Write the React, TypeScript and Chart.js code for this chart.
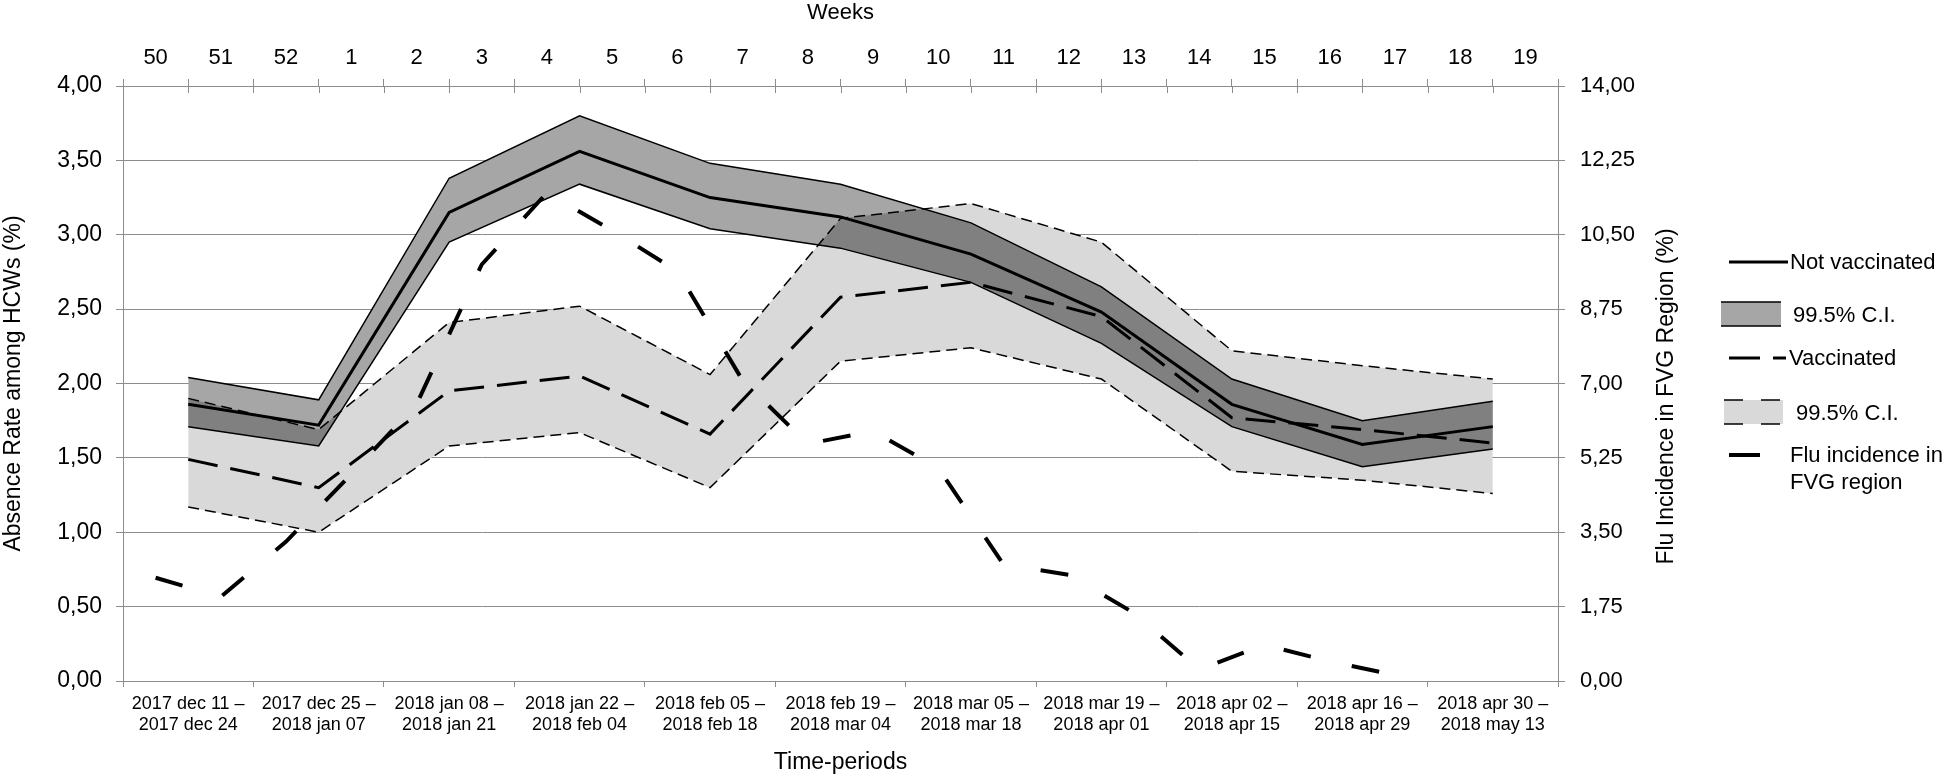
import React, { useEffect, useRef } from 'react';
import { Chart, registerables } from 'chart.js';

Chart.register(...registerables);

// ---- Data ----
const periods: string[][] = [
  ['2017 dec 11 –', '2017 dec 24'],
  ['2017 dec 25 –', '2018 jan 07'],
  ['2018 jan 08 –', '2018 jan 21'],
  ['2018 jan 22 –', '2018 feb 04'],
  ['2018 feb 05 –', '2018 feb 18'],
  ['2018 feb 19 –', '2018 mar 04'],
  ['2018 mar 05 –', '2018 mar 18'],
  ['2018 mar 19 –', '2018 apr 01'],
  ['2018 apr 02 –', '2018 apr 15'],
  ['2018 apr 16 –', '2018 apr 29'],
  ['2018 apr 30 –', '2018 may 13'],
];

const weeks: string[] = [
  '50', '51', '52', '1', '2', '3', '4', '5', '6', '7', '8',
  '9', '10', '11', '12', '13', '14', '15', '16', '17', '18', '19',
];

const notVaccinated = [1.86, 1.72, 3.15, 3.56, 3.25, 3.12, 2.87, 2.48, 1.86, 1.59, 1.71];
const notVaccinatedLow = [1.71, 1.58, 2.95, 3.34, 3.04, 2.91, 2.68, 2.27, 1.71, 1.44, 1.56];
const notVaccinatedHigh = [2.04, 1.89, 3.38, 3.8, 3.48, 3.34, 3.08, 2.65, 2.03, 1.75, 1.88];

const vaccinated = [1.49, 1.3, 1.95, 2.05, 1.66, 2.58, 2.68, 2.45, 1.77, 1.69, 1.6];
const vaccinatedLow = [1.17, 1.0, 1.58, 1.67, 1.3, 2.15, 2.24, 2.03, 1.41, 1.35, 1.26];
const vaccinatedHigh = [1.9, 1.69, 2.41, 2.52, 2.06, 3.11, 3.21, 2.95, 2.22, 2.12, 2.03];

const fluIncidence: (number | null)[] = [
  2.43, 1.98, 3.28, 4.87, 6.51, 9.8, 11.49, 10.6, 9.64, 7.07, 5.58,
  5.88, 5.01, 2.74, 2.5, 1.6, 0.27, 0.85, 0.46, 0.14, null, null,
];

const leftTitle = 'Absence Rate among HCWs (%)';
const rightTitle = 'Flu Incidence in FVG Region (%)';
const legendLabels = ['Not vaccinated', '99.5% C.I.', 'Vaccinated', '99.5% C.I.', 'Flu incidence in', 'FVG region'];

const FONT = "'Liberation Sans', Arial, Helvetica, sans-serif";
const GRID = '#8c8c8c';
const NV_FILL = '#a6a6a6';
const V_FILL = '#d9d9d9';
const OVERLAP_FILL = '#808080';

const comma = (v: number | string) => Number(v).toFixed(2).replace('.', ',');

export default function App() {
  const ref = useRef<HTMLCanvasElement | null>(null);

  useEffect(() => {
    if (!ref.current) return;

    const bandPath = (hi: any[], lo: any[]) => {
      const p = new Path2D();
      hi.forEach((pt, i) => (i ? p.lineTo(pt.x, pt.y) : p.moveTo(pt.x, pt.y)));
      for (let i = lo.length - 1; i >= 0; i--) p.lineTo(lo[i].x, lo[i].y);
      p.closePath();
      return p;
    };

    const overlapPlugin = {
      id: 'ciOverlap',
      beforeDatasetsDraw(chart: any) {
        const c = chart.ctx;
        const a = chart.chartArea;
        const nvLo = chart.getDatasetMeta(0).data;
        const nvHi = chart.getDatasetMeta(1).data;
        const vLo = chart.getDatasetMeta(2).data;
        const vHi = chart.getDatasetMeta(3).data;
        c.save();
        c.beginPath();
        c.rect(a.left, a.top, a.right - a.left, a.bottom - a.top);
        c.clip();
        c.clip(bandPath(vHi, vLo));
        c.fillStyle = OVERLAP_FILL;
        c.fill(bandPath(nvHi, nvLo));
        c.restore();
      },
    };

    const decorPlugin = {
      id: 'decor',
      afterDraw(chart: any) {
        const c = chart.ctx;
        const a = chart.chartArea;
        // inner part of top week ticks
        const x2 = chart.scales.x2;
        const step = x2.getPixelForValue(1) - x2.getPixelForValue(0);
        c.save();
        c.strokeStyle = GRID;
        c.lineWidth = 1;
        for (let i = 0; i <= weeks.length; i++) {
          const x = Math.round(x2.getPixelForValue(i) - step / 2) + 0.5;
          c.beginPath();
          c.moveTo(x, a.top);
          c.lineTo(x, a.top + 7);
          c.stroke();
        }
        c.restore();

        // right axis title (reads bottom-to-top)
        c.save();
        c.fillStyle = '#000';
        c.font = `23px ${FONT}`;
        c.textAlign = 'center';
        c.textBaseline = 'middle';
        c.translate(1667, (a.top + a.bottom) / 2 + 13);
        c.rotate(-Math.PI / 2);
        c.fillText(rightTitle, 0, 0);
        c.restore();

        // legend
        c.save();
        c.fillStyle = '#000';
        c.strokeStyle = '#000';
        c.font = `22px ${FONT}`;
        c.textAlign = 'left';
        c.textBaseline = 'middle';
        // Not vaccinated
        c.lineWidth = 3;
        c.beginPath();
        c.moveTo(1729, 262);
        c.lineTo(1788, 262);
        c.stroke();
        c.fillText(legendLabels[0], 1790, 263);
        // NV CI box
        c.fillStyle = NV_FILL;
        c.fillRect(1721, 302, 60, 24);
        c.lineWidth = 1.5;
        c.beginPath();
        c.moveTo(1721, 302);
        c.lineTo(1781, 302);
        c.moveTo(1721, 326);
        c.lineTo(1781, 326);
        c.stroke();
        c.fillStyle = '#000';
        c.fillText(legendLabels[1], 1793, 316);
        // Vaccinated
        c.lineWidth = 3;
        c.beginPath();
        c.moveTo(1729, 358);
        c.lineTo(1760, 358);
        c.moveTo(1773, 358);
        c.lineTo(1786, 358);
        c.stroke();
        c.fillText(legendLabels[2], 1789, 359);
        // V CI box
        c.fillStyle = V_FILL;
        c.fillRect(1724, 400, 59, 24);
        c.lineWidth = 1.5;
        c.beginPath();
        c.moveTo(1724, 400);
        c.lineTo(1743, 400);
        c.moveTo(1761, 400);
        c.lineTo(1780, 400);
        c.moveTo(1724, 424);
        c.lineTo(1743, 424);
        c.moveTo(1761, 424);
        c.lineTo(1780, 424);
        c.stroke();
        c.fillStyle = '#000';
        c.fillText(legendLabels[3], 1796, 414);
        // Flu
        c.lineWidth = 4;
        c.beginPath();
        c.moveTo(1729, 455);
        c.lineTo(1760, 455);
        c.stroke();
        c.fillText(legendLabels[4], 1790, 456);
        c.fillText(legendLabels[5], 1790, 483);
        c.restore();
      },
    };

    const tickFont = { family: FONT, size: 22 };
    const titleFont = { family: FONT, size: 23 };

    const chart = new Chart(ref.current, {
      type: 'line',
      data: {
        labels: periods as any,
        datasets: [
          { label: 'nvLow', data: notVaccinatedLow, borderColor: '#000', borderWidth: 1.5, fill: false, xAxisID: 'x', yAxisID: 'y' },
          { label: 'nvHigh', data: notVaccinatedHigh, borderColor: '#000', borderWidth: 1.5, fill: '-1', backgroundColor: NV_FILL, xAxisID: 'x', yAxisID: 'y' },
          { label: 'vLow', data: vaccinatedLow, borderColor: '#000', borderWidth: 1.5, borderDash: [11, 6], fill: false, xAxisID: 'x', yAxisID: 'y' },
          { label: 'vHigh', data: vaccinatedHigh, borderColor: '#000', borderWidth: 1.5, borderDash: [11, 6], fill: '-1', backgroundColor: V_FILL, xAxisID: 'x', yAxisID: 'y' },
          { label: 'Not vaccinated', data: notVaccinated, borderColor: '#000', borderWidth: 3, fill: false, xAxisID: 'x', yAxisID: 'y' },
          { label: 'Vaccinated', data: vaccinated, borderColor: '#000', borderWidth: 3, borderDash: [30, 13], fill: false, xAxisID: 'x', yAxisID: 'y' },
          { label: 'Flu incidence in FVG region', data: fluIncidence, borderColor: '#000', borderWidth: 4, borderDash: [28, 42], fill: false, xAxisID: 'x2', yAxisID: 'y2' },
        ] as any,
      },
      options: {
        responsive: false,
        animation: false,
        layout: { padding: 0 },
        elements: { point: { radius: 0, hoverRadius: 0 }, line: { tension: 0 } },
        plugins: {
          legend: { display: false },
          tooltip: { enabled: false },
          filler: { drawTime: 'beforeDatasetsDraw' },
        } as any,
        scales: {
          x: {
            type: 'category',
            position: 'bottom',
            labels: periods as any,
            offset: true,
            grid: { offset: true, drawOnChartArea: false, drawTicks: true, tickLength: 6, color: GRID },
            border: { color: GRID, width: 1 },
            ticks: { font: { family: FONT, size: 18 }, color: '#000', padding: 6, maxRotation: 0, autoSkip: false },
            title: { display: true, text: 'Time-periods', font: titleFont, color: '#000', padding: { top: 0, bottom: 4 } },
            afterFit: (s: any) => { s.height = 99; },
          },
          x2: {
            type: 'category',
            position: 'top',
            labels: weeks,
            offset: true,
            grid: { offset: true, drawOnChartArea: false, drawTicks: true, tickLength: 7, color: GRID },
            border: { color: GRID, width: 1 },
            ticks: { font: tickFont, color: '#000', padding: 8, maxRotation: 0, autoSkip: false },
            title: { display: true, text: 'Weeks', font: { family: FONT, size: 22 }, color: '#000', padding: { top: 0, bottom: 0 } },
            afterFit: (s: any) => { s.height = 86; },
          },
          y: {
            position: 'left',
            min: 0,
            max: 4,
            ticks: { stepSize: 0.5, callback: (v: any) => comma(v), font: { family: FONT, size: 23 }, color: '#000', padding: 14 },
            grid: { color: GRID, tickLength: 7, lineWidth: 1 },
            border: { color: GRID, width: 1 },
            title: { display: true, text: leftTitle, font: titleFont, color: '#000', padding: { top: 0, bottom: 0 } },
            afterFit: (s: any) => { s.width = 123; },
          },
          y2: {
            position: 'right',
            min: 0,
            max: 14,
            ticks: { stepSize: 1.75, callback: (v: any) => comma(v), font: tickFont, color: '#000', padding: 15 },
            grid: { drawOnChartArea: false, color: GRID, tickLength: 7 },
            border: { color: GRID, width: 1 },
            afterFit: (s: any) => { s.width = 388; },
          },
        } as any,
      },
      plugins: [overlapPlugin, decorPlugin],
    });

    return () => chart.destroy();
  }, []);

  return (
    <div style={{ position: 'absolute', left: 0, top: 0, width: 1946, height: 780, background: '#fff' }}>
      <canvas ref={ref} width={1946} height={780} />
    </div>
  );
}
